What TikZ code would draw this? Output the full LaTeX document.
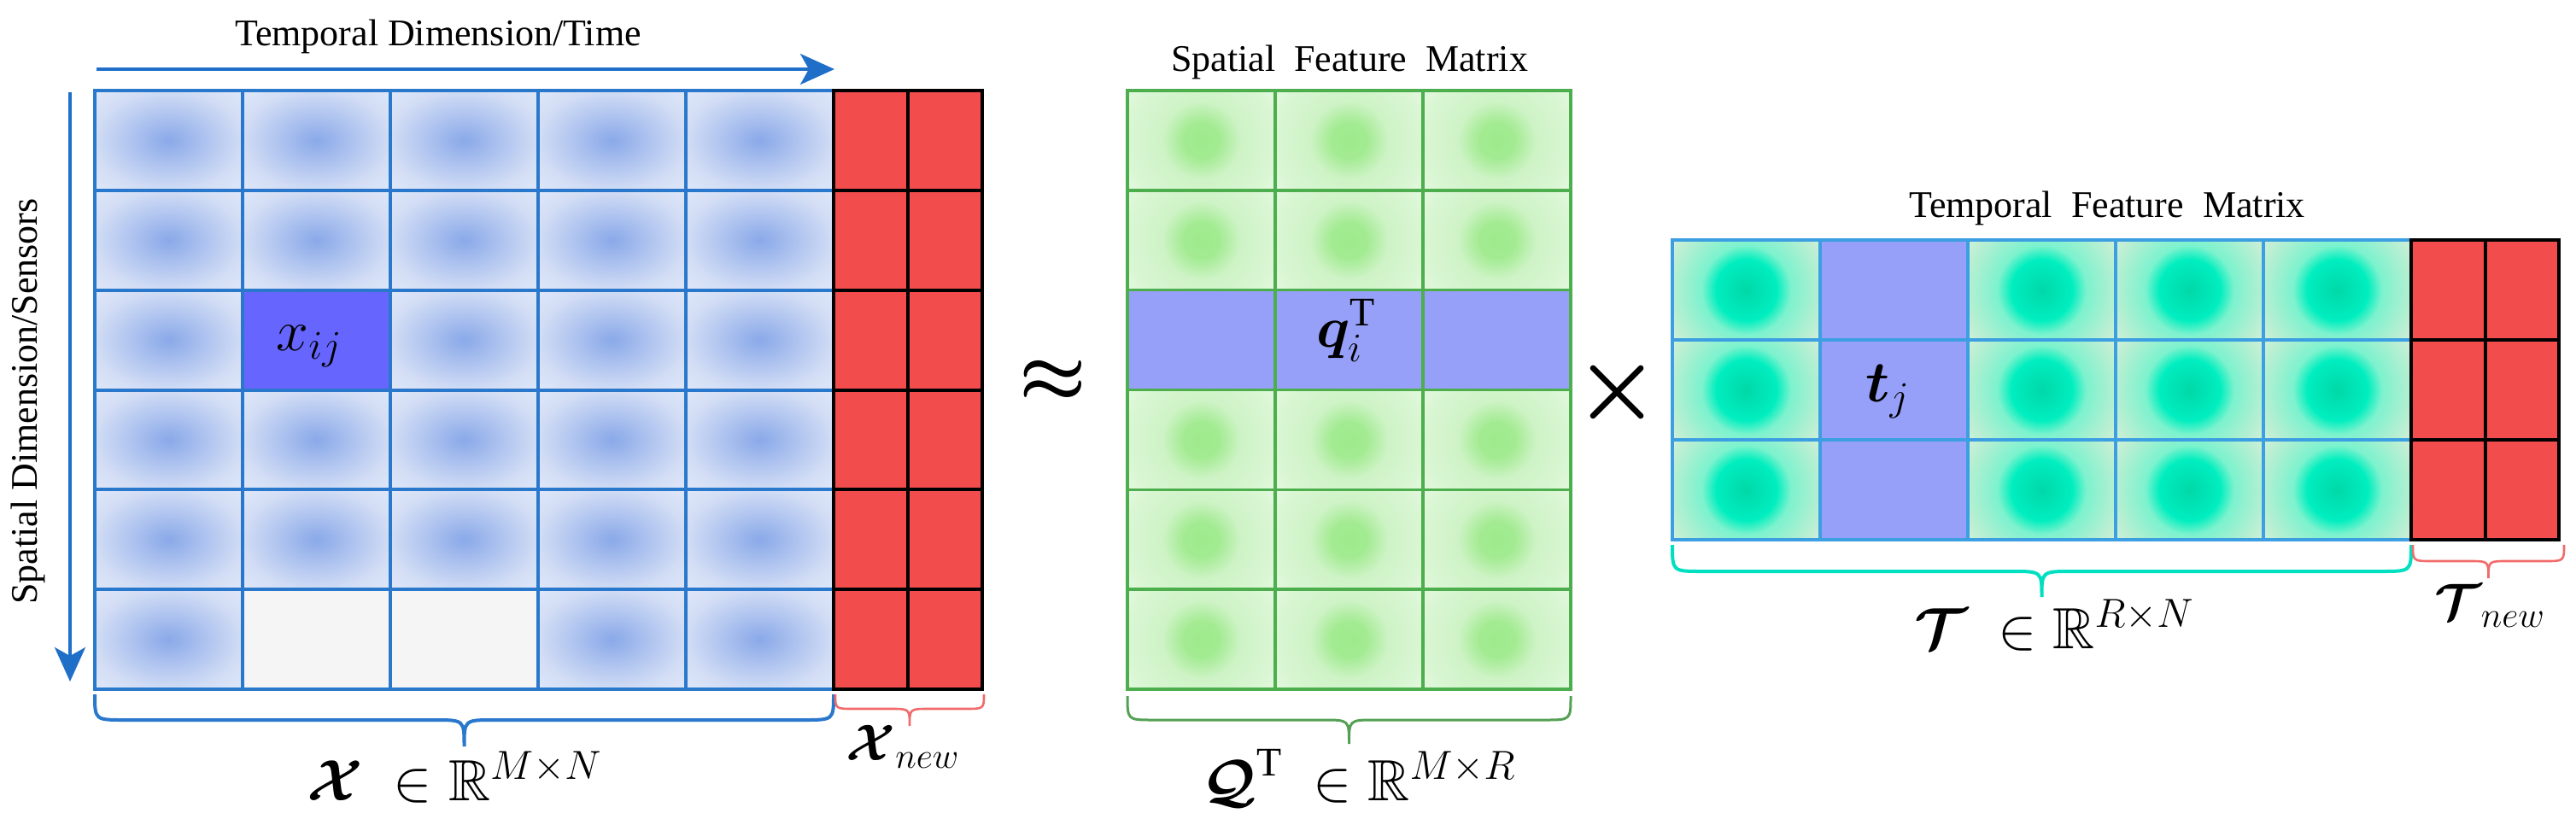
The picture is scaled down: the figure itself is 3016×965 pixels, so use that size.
\RequirePackage{fix-cm}
\documentclass[tikz,border=0pt]{standalone}
\usepackage{fontspec}
\setmainfont{Liberation Serif}
\newfontfamily\ttlfont{Liberation Serif}
\usepackage{amsmath,amssymb,bm}
\usetikzlibrary{arrows.meta}

\definecolor{gridblue}{HTML}{2A78CC}
\definecolor{arrowblue}{HTML}{1F6FC9}
\definecolor{bluec}{HTML}{8AA9E9}
\definecolor{bluee}{HTML}{D2DDF5}
\definecolor{bluek}{HTML}{DFE7F8}
\definecolor{xijfill}{HTML}{6666FF}
\definecolor{blankfill}{HTML}{F5F5F5}
\definecolor{redfill}{HTML}{F24C4C}
\definecolor{gridgreen}{HTML}{4CAE4C}
\definecolor{greenc}{HTML}{9EEA8C}
\definecolor{greenm}{HTML}{A3EB92}
\definecolor{greenb}{HTML}{CEF3C6}
\definecolor{greene}{HTML}{DAF6D4}
\definecolor{greenk}{HTML}{E4F8E0}
\definecolor{selfill}{HTML}{96A0F8}
\definecolor{gridteal}{HTML}{3C9FE2}
\definecolor{tealc}{HTML}{00D8A8}
\definecolor{tealr}{HTML}{00EEC0}
\definecolor{tealm}{HTML}{30F0C4}
\definecolor{tealb}{HTML}{7CF2CE}
\definecolor{teale}{HTML}{B6EFD2}
\definecolor{tealk}{HTML}{D2F0D8}
\definecolor{bracered}{HTML}{F26A6A}
\definecolor{bracegreen}{HTML}{55A055}
\definecolor{braceteal}{HTML}{00E0C0}

\pgfdeclareradialshading{bluecell}{\pgfpoint{0bp}{0bp}}{color(0bp)=(bluec); color(25bp)=(bluee); color(35bp)=(bluek); color(50bp)=(bluek)}
\pgfdeclareradialshading{greencell}{\pgfpoint{0bp}{0bp}}{color(0bp)=(greenc); color(5bp)=(greenm); color(11bp)=(greenb); color(20.6bp)=(greene); color(25bp)=(greenk); color(50bp)=(greenk)}
\pgfdeclareradialshading{tealcell}{\pgfpoint{0bp}{0bp}}{color(0bp)=(tealc); color(8.5bp)=(tealr); color(10bp)=(tealm); color(12.4bp)=(tealb); color(20.6bp)=(teale); color(25bp)=(tealk); color(50bp)=(tealk)}

\newcommand{\mybrace}[7]{%
  \pgfmathsetmacro{\bxm}{(#2+#3)/2}%
  \draw[#1] (#2,#4) .. controls (#2,#5) .. ({#2+#7},#5) -- ({\bxm-#7},#5) .. controls (\bxm,#5) .. (\bxm,#6) .. controls (\bxm,#5) .. ({\bxm+#7},#5) -- ({#3-#7},#5) .. controls (#3,#5) .. (#3,#4);%
}

\begin{document}
\begin{tikzpicture}[x=0.5pt,y=-0.5pt,
  ttl/.style={font=\ttlfont\fontsize{22pt}{26pt}\selectfont, inner sep=0pt},
  mth/.style={font=\fontsize{34pt}{40pt}\selectfont, inner sep=0pt},
  mthsm/.style={font=\fontsize{30pt}{36pt}\selectfont, inner sep=0pt},
  gline/.style={line width=2pt, line cap=rect},
  axisarrow/.style={arrowblue, line width=2pt, -{Stealth[length=20pt, width=18pt, inset=5pt]}}]
\useasboundingbox (0,0) rectangle (3016,965);

% ---------- X matrix ----------
\foreach \c in {0,...,4}{\foreach \r in {0,...,5}{
  \shade[shading=bluecell] ({111+173*\c},{106+116.833*\r}) rectangle ++(173,116.833);}}
\fill[blankfill] (284,690.17) rectangle (630,807);
\fill[xijfill] (284,339.67) rectangle (457,456.5);
\foreach \c in {0,...,5} \draw[gline, gridblue] ({111+173*\c},106) -- ({111+173*\c},807);
\foreach \r in {0,...,6} \draw[gline, gridblue] (111,{106+116.833*\r}) -- (976,{106+116.833*\r});
\fill[redfill] (976,106) rectangle (1150,807);
\foreach \c in {0,1,2} \draw[gline, black] ({976+87*\c},106) -- ({976+87*\c},807);
\foreach \r in {0,...,6} \draw[gline, black] (976,{106+116.833*\r}) -- (1150,{106+116.833*\r});

% ---------- Q matrix ----------
\foreach \c in {0,1,2}{\foreach \r in {0,1,3,4,5}{
  \begin{scope}
    \clip ({1320+173*\c},{106+116.833*\r}) rectangle ++(173,116.833);
    \shade[shading=greencell] ({1406.5+173*\c},{164.42+116.833*\r}) circle[radius=52.5pt];
  \end{scope}}}
\fill[selfill] (1320,339.67) rectangle (1839,456.5);
\foreach \c in {0,...,3} \draw[gline, gridgreen, line width=1.8pt] ({1320+173*\c},106) -- ({1320+173*\c},807);
\foreach \r in {0,...,6} \draw[gline, gridgreen, line width=1.8pt] (1320,{106+116.833*\r}) -- (1839,{106+116.833*\r});

% ---------- T matrix ----------
\foreach \c in {0,2,3,4}{\foreach \r in {0,1,2}{
  \begin{scope}
    \clip ({1958+173*\c},{281+117*\r}) rectangle ++(173,117);
    \shade[shading=tealcell] ({2044.5+173*\c},{339.5+117*\r}) circle[radius=52.5pt];
  \end{scope}}}
\fill[selfill] (2131,281) rectangle (2304,632);
\foreach \c in {0,...,5} \draw[gline, gridteal, line width=1.8pt] ({1958+173*\c},281) -- ({1958+173*\c},632);
\foreach \r in {0,...,3} \draw[gline, gridteal, line width=1.8pt] (1958,{281+117*\r}) -- (2823,{281+117*\r});
\fill[redfill] (2823,281) rectangle (2996,632);
\foreach \c in {0,1,2} \draw[gline, black] ({2823+86.5*\c},281) -- ({2823+86.5*\c},632);
\foreach \r in {0,...,3} \draw[gline, black] (2823,{281+117*\r}) -- (2996,{281+117*\r});

% ---------- axes ----------
\coordinate (tstart) at (113,81);
\coordinate (tend) at (977,81);
\draw[axisarrow] (tstart) -- (tend);
\coordinate (sstart) at (82,108);
\coordinate (send) at (82,798);
\draw[axisarrow] (sstart) -- (send);

% ---------- braces ----------
\mybrace{gridblue, line width=2pt}{111}{976}{813}{843}{874}{35}
\mybrace{bracered, line width=1.3pt}{978}{1152}{813}{830}{850}{22}
\mybrace{bracegreen, line width=1.5pt}{1320}{1839}{815}{843}{871}{30}
\mybrace{braceteal, line width=2pt}{1958}{2823}{638}{669}{699}{35}
\mybrace{bracered, line width=1.3pt}{2825}{3002}{638}{657}{677}{22}

% ---------- titles ----------
\node[ttl, anchor=base] (ttime) at (513,53) {Temporal Dimension/Time};
\node[ttl, rotate=90] (tsens) at (33,470) {Spatial Dimension/Sensors};
\node[ttl, anchor=base] (tsfm) at (1580,83) {\spaceskip=0.5em\relax Spatial Feature Matrix};
\node[ttl, anchor=base] (ttfm) at (2467,254) {\spaceskip=0.5em\relax Temporal Feature Matrix};

% ---------- math ----------
\node[mth, anchor=base] (lxij) at (362,410) {$x_{ij}$};
\node[mth, anchor=base] (lqi) at (1576,406) {$\bm{q}_i^{\mathrm{T}}$};
\node[mth, anchor=base] (ltj) at (2210,470) {$\bm{t}_j$};
\node[mth, anchor=base] (lx) at (532,937) {$\bm{\mathcal{X}}\ \in\mathbb{R}^{M\times N}$};
\node[mth, anchor=base] (lq) at (1591,937) {$\bm{\mathcal{Q}}^{\mathrm{T}}\ \in\mathbb{R}^{M\times R}$};
\node[mth, anchor=base] (lt) at (2405,759) {$\bm{\mathcal{T}}\ \in\mathbb{R}^{R\times N}$};
\node[mthsm, anchor=base] (lxn) at (1057,890) {$\bm{\mathcal{X}}_{new}$};
\node[mthsm, anchor=base] (ltn) at (2915,725) {$\bm{\mathcal{T}}_{new}$};
\node[font=\fontsize{44pt}{50pt}\selectfont, inner sep=0pt] (approx) at (1233,446) {$\bm{\approx}$};
\node[font=\fontsize{56pt}{60pt}\selectfont, inner sep=0pt] (times) at (1894,459) {$\bm{\times}$};
\end{tikzpicture}
\end{document}
